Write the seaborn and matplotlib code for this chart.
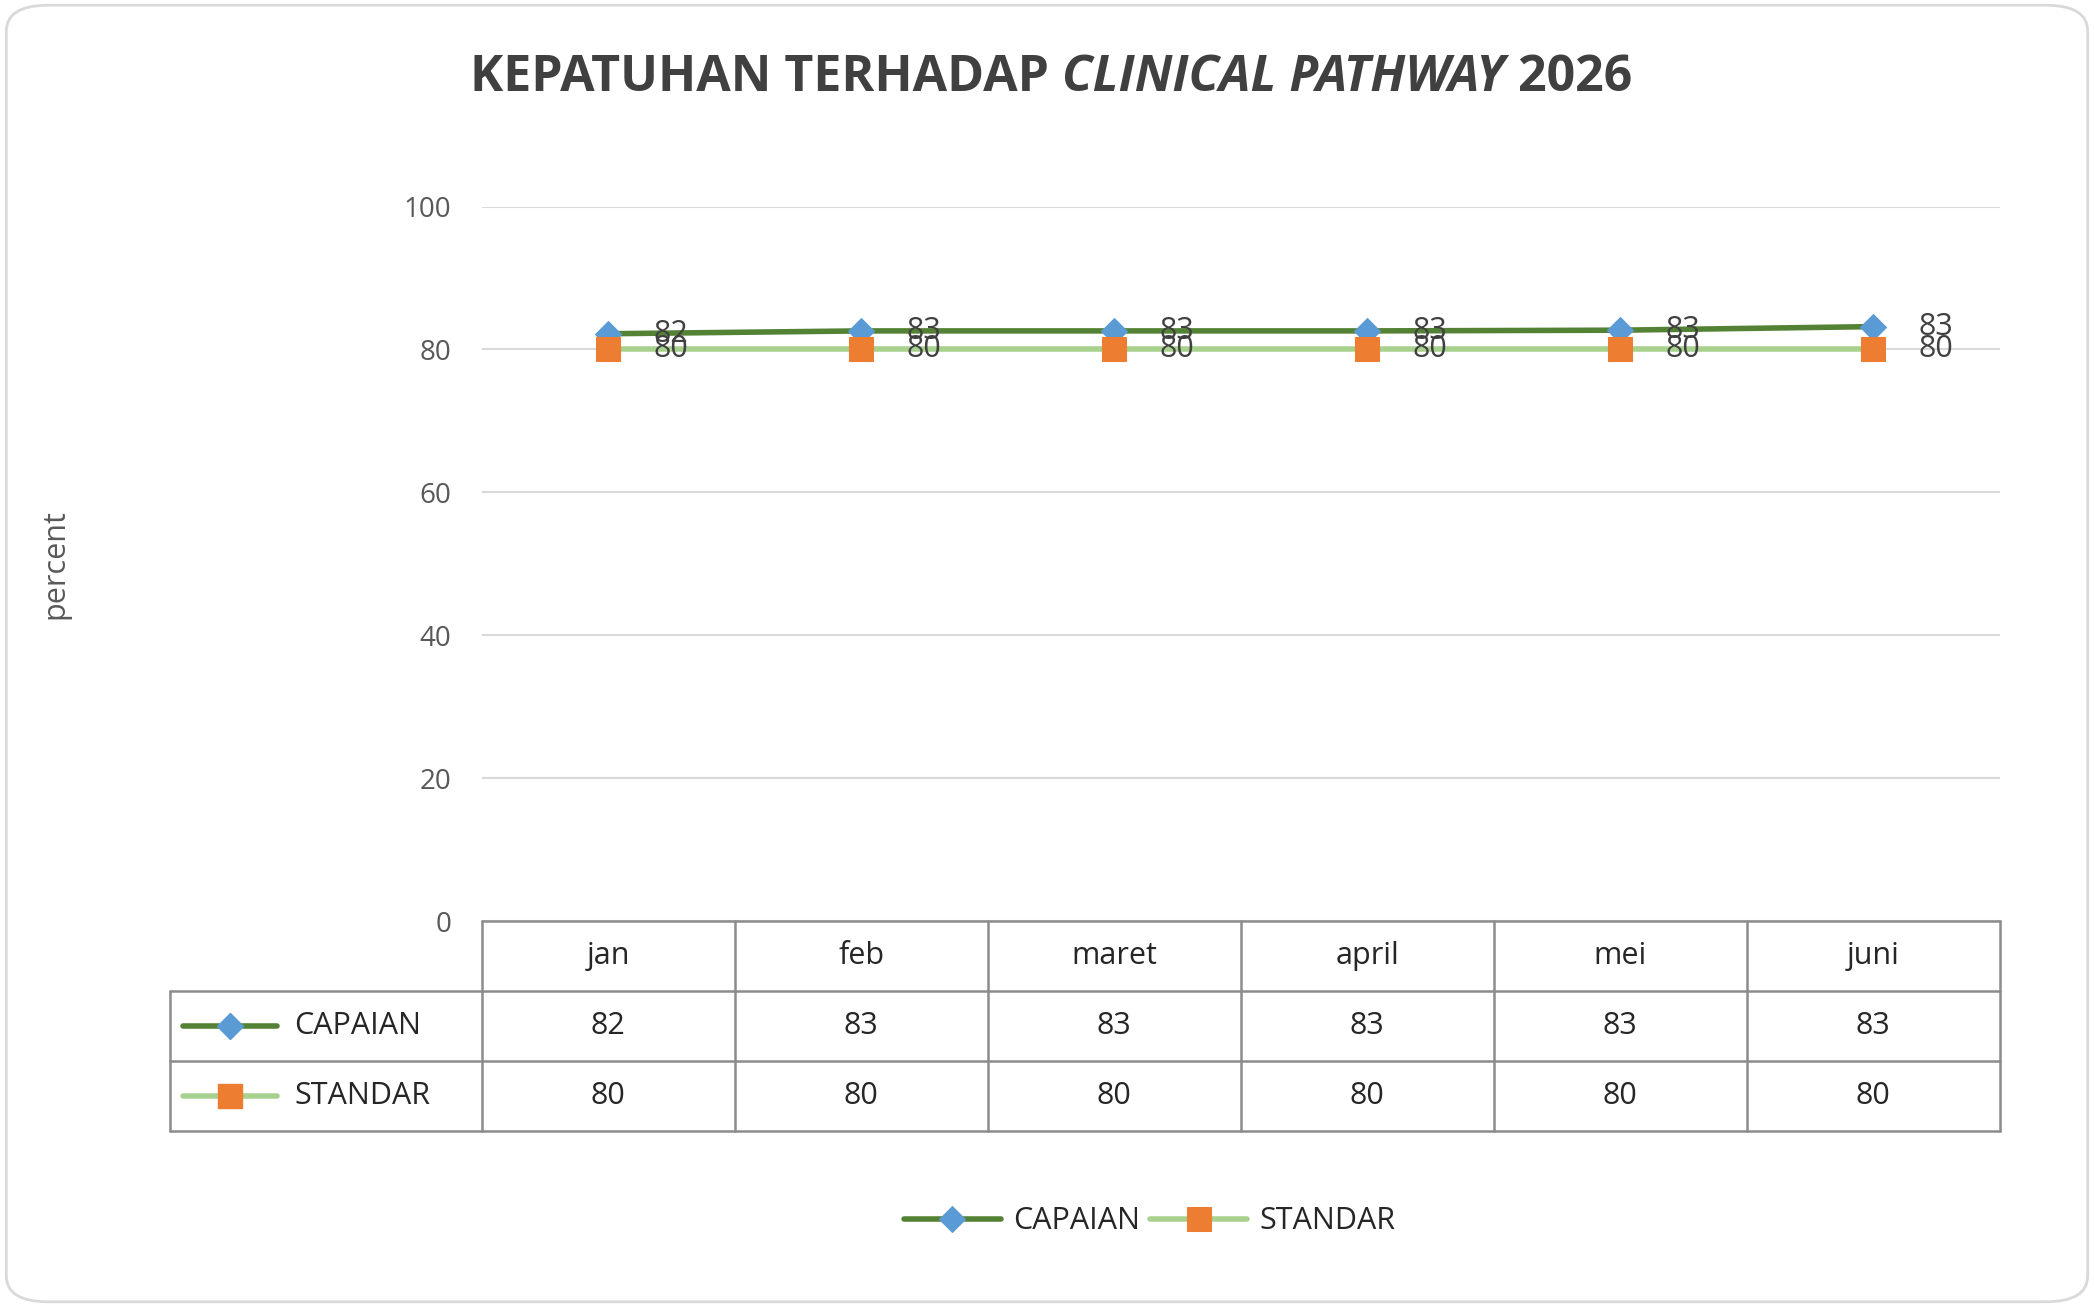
import matplotlib
matplotlib.use("Agg")
import matplotlib.pyplot as plt
import seaborn as sns
import pandas as pd
from matplotlib.patches import FancyBboxPatch

months = ["jan", "feb", "maret", "april", "mei", "juni"]
capaian = [82.2, 82.6, 82.6, 82.6, 82.7, 83.2]
standar = [80, 80, 80, 80, 80, 80]
capaian_lbl = [82, 83, 83, 83, 83, 83]
standar_lbl = [80, 80, 80, 80, 80, 80]

sns.set_style("white")
plt.rcParams['font.family'] = ['Open Sans', 'DejaVu Sans']

fig = plt.figure(figsize=(20.94, 13.07), dpi=100)
fig.patches.append(FancyBboxPatch((0.003, 0.004), 0.994, 0.992, boxstyle="round,pad=0,rounding_size=0.02",
                                  transform=fig.transFigure, fc="white", ec="#d9d9d9", lw=2, zorder=-10))

ax = fig.add_axes([0.230, 0.295, 0.725, 0.547])
ax.patch.set_alpha(0)
df = pd.DataFrame({"x": range(6), "CAPAIAN": capaian, "STANDAR": standar})
sns.lineplot(data=df, x="x", y="CAPAIAN", ax=ax, color="#548235", lw=4, marker="D",
             markersize=13, markerfacecolor="#5B9BD5", markeredgecolor="#5B9BD5", label="CAPAIAN")
sns.lineplot(data=df, x="x", y="STANDAR", ax=ax, color="#A9D18E", lw=4, marker="s",
             markersize=17, markerfacecolor="#ED7D31", markeredgecolor="#ED7D31", label="STANDAR")
for i in range(6):
    ax.text(i + 0.18, capaian[i], str(capaian_lbl[i]), fontsize=22, color="#404040", va="center")
    ax.text(i + 0.18, standar[i], str(standar_lbl[i]), fontsize=22, color="#404040", va="center")
ax.set_xlim(-0.5, 5.5)
ax.set_ylim(0, 100)
ax.set_yticks(range(0, 101, 20))
ax.set_xticks([])
ax.set_xlabel("")
ax.set_ylabel("percent", fontsize=22, color="#595959", labelpad=240)
ax.tick_params(axis="y", labelsize=20, labelcolor="#595959", length=0, pad=22)
ax.grid(axis="y", color="#d9d9d9", lw=1.5)
for s in ax.spines.values():
    s.set_visible(False)
leg = ax.legend(loc="upper center", bbox_to_anchor=(0.44, -0.36), ncol=2, frameon=False,
                fontsize=22, handlelength=3.2, columnspacing=0.3, handletextpad=0.4)

# data table below the plot
tab = fig.add_axes([0.230, 0.135, 0.725, 0.16], sharex=ax)
tab.set_ylim(0, 3)
tab.axis("off")
lc = "#8c8c8c"
left = -0.5 - 1.23
kw = dict(color=lc, lw=1.8, clip_on=False)
tab.plot([-0.5, 5.5], [3, 3], **kw)
for y in [0, 1, 2]:
    tab.plot([left, 5.5], [y, y], **kw)
for x in [-0.5 + k for k in range(7)]:
    tab.plot([x, x], [0, 3], **kw)
tab.plot([left, left], [0, 2], **kw)
for i, m in enumerate(months):
    tab.text(i, 2.5, m, ha="center", va="center", fontsize=22, color="#262626")
    tab.text(i, 1.5, str(capaian_lbl[i]), ha="center", va="center", fontsize=22, color="#262626")
    tab.text(i, 0.5, str(standar_lbl[i]), ha="center", va="center", fontsize=22, color="#262626")
tab.plot([left + 0.05, left + 0.42], [1.5, 1.5], color="#548235", lw=4, clip_on=False)
tab.plot([left + 0.235], [1.5], marker="D", ms=13, color="#5B9BD5", clip_on=False)
tab.plot([left + 0.05, left + 0.42], [0.5, 0.5], color="#A9D18E", lw=4, clip_on=False)
tab.plot([left + 0.235], [0.5], marker="s", ms=17, color="#ED7D31", clip_on=False)
tab.text(left + 0.49, 1.5, "CAPAIAN", va="center", fontsize=22, color="#262626")
tab.text(left + 0.49, 0.5, "STANDAR", va="center", fontsize=22, color="#262626")

# title with italic part
fig.canvas.draw()
r = fig.canvas.get_renderer()
parts = [("KEPATUHAN TERHADAP ", "normal"), ("CLINICAL PATHWAY", "italic"), (" 2026", "normal")]
texts = [fig.text(0, 0.94, p, fontsize=36, weight="bold", style=st, color="#404040", va="center")
         for p, st in parts]
widths = [t.get_window_extent(r).width / fig.bbox.width for t in texts]
x0 = 0.502 - sum(widths) / 2
for t, w in zip(texts, widths):
    t.set_x(x0)
    x0 += w

fig.savefig("out.png", dpi=100)
